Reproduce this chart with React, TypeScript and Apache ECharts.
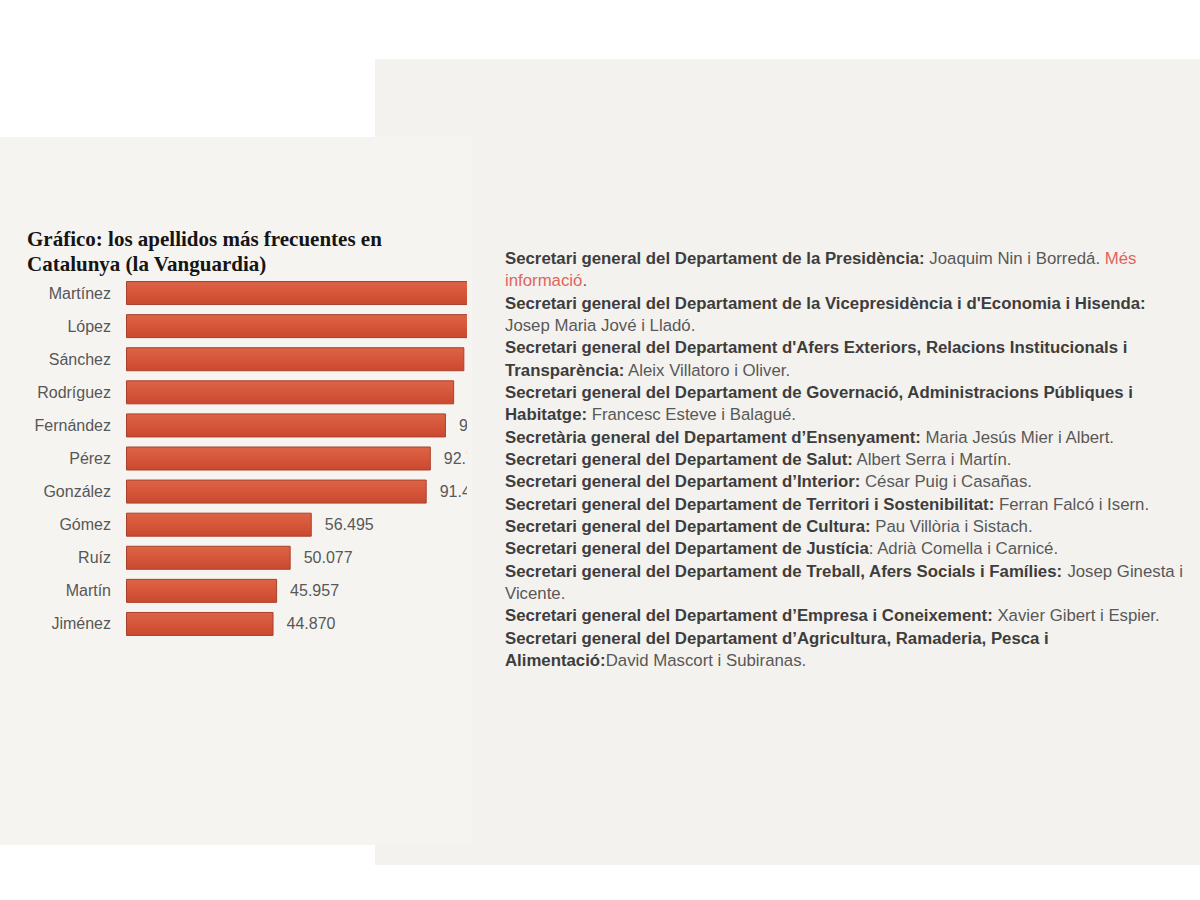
import React, { useEffect, useRef } from "react";
import * as echarts from "echarts";

const surnames = ["Martínez", "López", "Sánchez", "Rodríguez", "Fernández", "Pérez", "González", "Gómez", "Ruíz", "Martín", "Jiménez"];
const counts = [118000, 112000, 102900, 99800, 97300, 92700, 91450, 56495, 50077, 45957, 44870];

const chartTitle = "Gráfico: los apellidos más frecuentes en\nCatalunya (la Vanguardia)";

// Segments: [style, text]; style b = bold, n = normal, r = red link
const textLines: [string, string][][] = [
  [["b", "Secretari general del Departament de la Presidència:"], ["n", " Joaquim Nin i Borredá. "], ["r", "Més"]],
  [["r", "informació"], ["n", "."]],
  [["b", "Secretari general del Departament de la Vicepresidència i d'Economia i Hisenda:"]],
  [["n", "Josep Maria Jové i Lladó."]],
  [["b", "Secretari general del Departament d'Afers Exteriors, Relacions Institucionals i"]],
  [["b", "Transparència:"], ["n", " Aleix Villatoro i Oliver."]],
  [["b", "Secretari general del Departament de Governació, Administracions Públiques i"]],
  [["b", "Habitatge:"], ["n", " Francesc Esteve i Balagué."]],
  [["b", "Secretària general del Departament d’Ensenyament:"], ["n", " Maria Jesús Mier i Albert."]],
  [["b", "Secretari general del Departament de Salut:"], ["n", " Albert Serra i Martín."]],
  [["b", "Secretari general del Departament d’Interior:"], ["n", " César Puig i Casañas."]],
  [["b", "Secretari general del Departament de Territori i Sostenibilitat:"], ["n", " Ferran Falcó i Isern."]],
  [["b", "Secretari general del Departament de Cultura:"], ["n", " Pau Villòria i Sistach."]],
  [["b", "Secretari general del Departament de Justícia"], ["n", ": Adrià Comella i Carnicé."]],
  [["b", "Secretari general del Departament de Treball, Afers Socials i Famílies:"], ["n", " Josep Ginesta i"]],
  [["n", "Vicente."]],
  [["b", "Secretari general del Departament d’Empresa i Coneixement:"], ["n", " Xavier Gibert i Espier."]],
  [["b", "Secretari general del Departament d’Agricultura, Ramaderia, Pesca i"]],
  [["b", "Alimentació:"], ["n", "David Mascort i Subiranas."]],
];

function fmt(v: number): string {
  const s = String(Math.round(v));
  return s.replace(/\B(?=(\d{3})+(?!\d))/g, ".");
}

export default function App() {
  const bgRef = useRef<HTMLDivElement>(null);
  const barRef = useRef<HTMLDivElement>(null);

  useEffect(() => {
    const bg = echarts.init(bgRef.current!, null, { renderer: "svg" });
    const bar = echarts.init(barRef.current!, null, { renderer: "svg" });

    const lineTop = 250;
    const lineStep = 22.33;
    const fs = 16.8;
    const textEls = textLines.map((segs, i) => ({
      type: "text",
      left: 505,
      top: lineTop + i * lineStep,
      z: 10,
      style: {
        text: segs.map(([k, t]) => `{${k}|${t}}`).join(""),
        rich: {
          b: { fontFamily: "Liberation Sans", fontWeight: "bold", fontSize: fs, fill: "#3d3d3d", lineHeight: 18 },
          n: { fontFamily: "Liberation Sans", fontWeight: "normal", fontSize: fs, fill: "#585858", lineHeight: 18 },
          r: { fontFamily: "Liberation Sans", fontWeight: "normal", fontSize: fs, fill: "#e0645c", lineHeight: 18 },
        },
      },
    }));

    bg.setOption({
      animation: false,
      backgroundColor: "#ffffff",
      graphic: [
        { type: "rect", shape: { x: 375, y: 59, width: 825, height: 806 }, style: { fill: "#f4f2ee" }, z: 1 },
        { type: "rect", shape: { x: 0, y: 137, width: 472, height: 708 }, style: { fill: "#f6f4f1" }, z: 2 },
        ...textEls,
      ],
    });

    const gridLeft = 126;
    const clipEdge = 467;
    const labelGap = 13;
    const pxPerUnit = 0.003288;
    const xMax = 120000;
    bar.setOption({
      animation: false,
      backgroundColor: "transparent",
      title: {
        text: chartTitle,
        left: 27,
        top: 226,
        padding: 0,
        textStyle: { fontFamily: "Liberation Serif", fontWeight: "bold", fontSize: 21, lineHeight: 25, color: "#151515" },
      },
      grid: { left: gridLeft, top: 276.5, height: 364, width: xMax * pxPerUnit, containLabel: false },
      xAxis: { type: "value", min: 0, max: xMax, show: false },
      yAxis: {
        type: "category",
        data: surnames,
        inverse: true,
        axisLine: { show: false },
        axisTick: { show: false },
        axisLabel: { margin: 15, fontFamily: "Liberation Sans", fontSize: 16, color: "#575757" },
      },
      series: [
        {
          type: "bar",
          data: counts,
          barWidth: 24,
          itemStyle: {
            color: new echarts.graphic.LinearGradient(0, 0, 0, 1, [
              { offset: 0, color: "#dd6446" },
              { offset: 0.5, color: "#d6563a" },
              { offset: 1, color: "#c9492f" },
            ]),
            borderColor: "#a9402c",
            borderWidth: 1,
          },
          label: {
            show: true,
            position: "right",
            distance: labelGap,
            // labels that would start beyond the cropped edge are not visible in the reference
            formatter: (p: any) =>
              gridLeft + p.value * pxPerUnit + labelGap >= clipEdge ? "" : fmt(p.value),
            fontFamily: "Liberation Sans",
            fontSize: 16,
            color: "#585858",
          },
        },
      ],
    });

    return () => {
      bg.dispose();
      bar.dispose();
    };
  }, []);

  return (
    <div style={{ position: "absolute", left: 0, top: 0, width: 1200, height: 900, background: "#fff" }}>
      <div ref={bgRef} style={{ position: "absolute", left: 0, top: 0, width: 1200, height: 900 }} />
      <div style={{ position: "absolute", left: 0, top: 0, width: 467, height: 900, overflow: "hidden" }}>
        <div ref={barRef} style={{ position: "absolute", left: 0, top: 0, width: 640, height: 900 }} />
      </div>
    </div>
  );
}
